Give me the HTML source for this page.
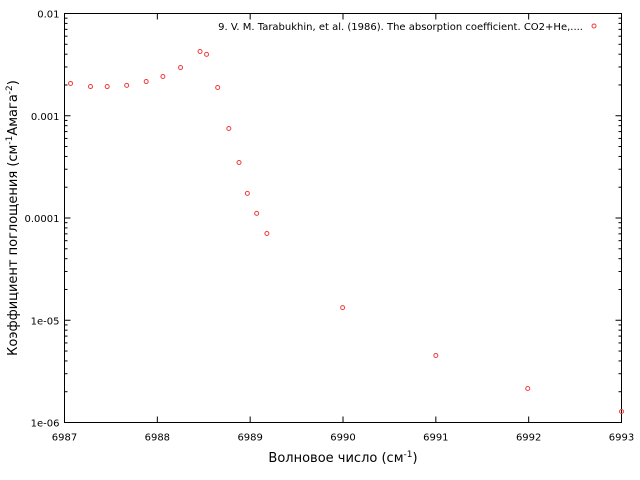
<!DOCTYPE html>
<html><head><meta charset="utf-8">
<style>
body{margin:0;background:#fff;}
svg{display:block;font-family:"DejaVu Sans","Liberation Sans",sans-serif;}
</style></head>
<body>
<svg id="chart" width="640" height="480" viewBox="0 0 640 480" xmlns="http://www.w3.org/2000/svg">
<g id="axes"></g>
<g id="points"></g>
<text x="343" y="462" font-size="13" text-anchor="middle">Волновое число (см<tspan dy="-5" font-size="9">-1</tspan><tspan dy="5">)</tspan></text>
<text transform="translate(17,218) rotate(-90)" font-size="13" text-anchor="middle">Коэффициент поглощения (см<tspan dy="-5" font-size="9">-1</tspan><tspan dy="5">Амага</tspan><tspan dy="-5" font-size="9">-2</tspan><tspan dy="5">)</tspan></text>
<g>
<text x="583" y="30" font-size="10" text-anchor="end">9. V. M. Tarabukhin, et al. (1986). The absorption coefficient. CO2+He,....</text>
<circle cx="594" cy="26" r="2" fill="none" stroke="#f03c3c" stroke-width="1"/>
</g>
</svg>
<script>
const xValues=[6987.065,6987.28,6987.46,6987.67,6987.88,6988.06,6988.25,6988.46,6988.53,6988.65,6988.77,6988.88,6988.97,6989.07,6989.18,6989.996,6991.0,6991.99,6993.0];
const yValues=[0.00207,0.00193,0.00193,0.00198,0.00216,0.00242,0.00296,0.00425,0.00398,0.00189,0.00075,0.000349,0.000174,0.000111,7.05e-5,1.33e-5,4.52e-6,2.15e-6,1.28e-6];
const xTicks=[6987,6988,6989,6990,6991,6992,6993];
const xTickLabels=["6987","6988","6989","6990","6991","6992","6993"];
const yTicks=[1e-6,1e-5,1e-4,1e-3,1e-2];
const yTickLabels=["1e-06","1e-05","0.0001","0.001","0.01"];

const L=64.5,R=621.5,T=13.5,B=422.5;
const NS="http://www.w3.org/2000/svg";
function sx(v){return L+(v-6987)/(6993-6987)*(R-L);}
function sy(v){return B-(Math.log10(v)+6)/4*(B-T);}
function mk(tag,attrs,parent){const e=document.createElementNS(NS,tag);for(const k in attrs)e.setAttribute(k,attrs[k]);parent.appendChild(e);return e;}
const ax=document.getElementById('axes');
const frame=mk('rect',{x:L,y:T,width:R-L,height:B-T,fill:'none',stroke:'#000','stroke-width':1},ax);


xTicks.forEach((v,i)=>{
  const x=sx(v);
  const t1=mk('line',{x1:x,x2:x,y1:B,y2:B-6,stroke:'#000'},ax);
  
  
  const t2=mk('line',{x1:x,x2:x,y1:T,y2:T+6,stroke:'#000'},ax);
  
  
  const lb=mk('text',{x:x,y:B+18,'font-size':10,'text-anchor':'middle'},ax);
  lb.textContent=xTickLabels[i];
  
  
});
yTicks.forEach((v,i)=>{
  const y=sy(v);
  const t1=mk('line',{x1:L,x2:L+6,y1:y,y2:y,stroke:'#000'},ax);
  
  
  const t2=mk('line',{x1:R,x2:R-6,y1:y,y2:y,stroke:'#000'},ax);
  
  
  const lb=mk('text',{x:L-5,y:y+4,'font-size':10,'text-anchor':'end'},ax);
  lb.textContent=yTickLabels[i];
  
  
  if(i<yTicks.length-1){
    for(let m=2;m<=9;m++){
      const yy=sy(v*m);
      const a=mk('line',{x1:L,x2:L+3,y1:yy,y2:yy,stroke:'#000'},ax);
      
      
      const b=mk('line',{x1:R,x2:R-3,y1:yy,y2:yy,stroke:'#000'},ax);
      
      
    }
  }
});
const pg=document.getElementById('points');
xValues.forEach((xv,i)=>{
  const c=mk('circle',{cx:sx(xv),cy:sy(yValues[i]),r:2,fill:'none',stroke:'#f03c3c','stroke-width':1},pg);
  
  
});
</script>
</body></html>
